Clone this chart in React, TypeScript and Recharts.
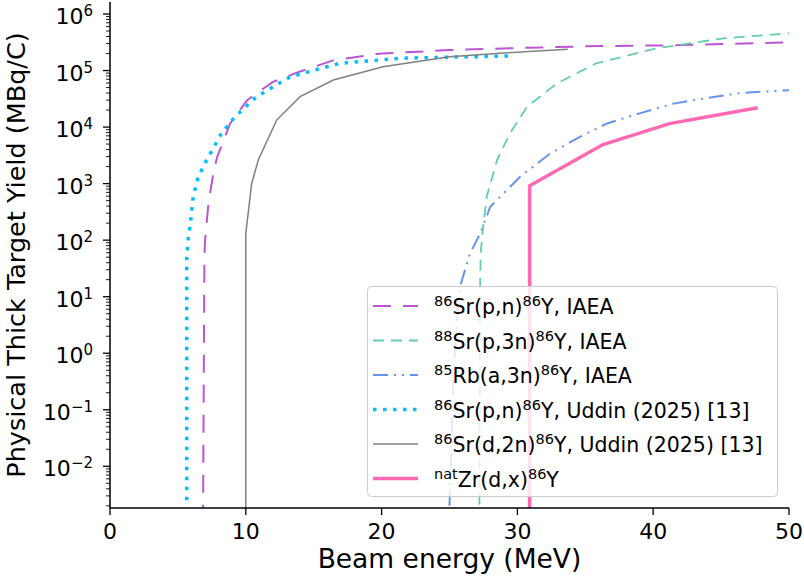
import React from "react";
import { LineChart, Line, XAxis, YAxis } from "recharts";

const FONT = "'DejaVu Sans', sans-serif";

// beam energy (MeV) and yield (MBq/C) per reaction
const srPnIaeaEnergy = [6.85, 6.95, 7.0, 7.25, 7.65, 7.9, 8.85, 10.1, 12.0, 14.0, 16.5, 20.0, 25.0, 30.0, 35.0, 41.5, 50.0];
const srPnIaeaYield = [1e-3, 50, 100, 450, 1750, 3000, 11600, 30000, 63000, 96000, 153000, 200000, 230000, 250000, 268000, 280000, 316000];

const sr88IaeaEnergy = [27.2, 27.25, 27.3, 27.5, 27.75, 28.5, 29.45, 30.7, 32.9, 35.8, 40.25, 45.2, 50.0];
const sr88IaeaYield = [1e-3, 15, 60, 200, 600, 2600, 7700, 22700, 59000, 134000, 247000, 372000, 455000];

const rbIaeaEnergy = [25.0, 25.25, 25.5, 25.77, 26.5, 27.25, 28.0, 30.2, 32.4, 34.6, 36.6, 39.0, 41.5, 43.9, 46.4, 50.0];
const rbIaeaYield = [2e-3, 0.2, 3, 15, 57, 130, 390, 1320, 3400, 6700, 11600, 17500, 26000, 32500, 40000, 45000];

const srPnUddinEnergy = [5.65, 5.65, 5.77, 5.89, 6.13, 6.5, 7.12, 8.22, 9.2, 10.8, 13.25, 16.9, 21.4, 24.3, 29.6];
const srPnUddinYield = [2.5e-3, 50, 112, 170, 590, 1320, 2620, 7800, 15200, 34500, 77000, 134000, 165000, 171000, 181000];

const srDUddinEnergy = [10.0, 10.0, 10.43, 10.92, 12.27, 14.0, 16.45, 20.1, 25.0, 29.0, 33.7];
const srDUddinYield = [1e-3, 132, 1000, 2620, 13300, 34500, 68000, 117000, 176000, 205000, 237000];

const zrEnergy = [30.9, 30.9, 36.3, 41.2, 47.7];
const zrYield = [1e-3, 920, 4900, 11500, 22000];

const xTicks = [0, 10, 20, 30, 40, 50];
const decades = [-2, -1, 0, 1, 2, 3, 4, 5, 6];
const yDomain = [1.83e-3, 1.63e6];

const toPoints = (xs: number[], ys: number[]) => xs.map((x, i) => ({ x, y: ys[i] }));

const yTicks: number[] = [];
for (let e = -3; e <= 6; e++) {
    for (let m = 1; m <= 9; m++) {
        const v = m * Math.pow(10, e);
        if (v >= yDomain[0] && v <= yDomain[1]) yTicks.push(v);
    }
}

type SeriesDef = {
    name: string;
    isotope: string;
    reaction: string;
    suffix: string;
    color: string;
    width: number;
    dash?: string;
    data: { x: number; y: number }[];
};

const series: SeriesDef[] = [
    { name: "srPnIaea", isotope: "86", reaction: "Sr(p,n)", suffix: "Y, IAEA", color: "#BA55D3", width: 2, dash: "18 12", data: toPoints(srPnIaeaEnergy, srPnIaeaYield) },
    { name: "sr88Iaea", isotope: "88", reaction: "Sr(p,3n)", suffix: "Y, IAEA", color: "#66CDAA", width: 1.8, dash: "11 7", data: toPoints(sr88IaeaEnergy, sr88IaeaYield) },
    { name: "rbIaea", isotope: "85", reaction: "Rb(a,3n)", suffix: "Y, IAEA", color: "#6495ED", width: 2, dash: "15 6 2 6 2 6", data: toPoints(rbIaeaEnergy, rbIaeaYield) },
    { name: "srPnUddin", isotope: "86", reaction: "Sr(p,n)", suffix: "Y, Uddin (2025) [13]", color: "#00BFFF", width: 3.5, dash: "3.5 6.5", data: toPoints(srPnUddinEnergy, srPnUddinYield) },
    { name: "srDUddin", isotope: "86", reaction: "Sr(d,2n)", suffix: "Y, Uddin (2025) [13]", color: "#808080", width: 1.5, data: toPoints(srDUddinEnergy, srDUddinYield) },
    { name: "zr", isotope: "nat", reaction: "Zr(d,x)", suffix: "Y", color: "#FF69B4", width: 3.5, data: toPoints(zrEnergy, zrYield) },
];

const YTick = (props: any) => {
    const { x, y, payload } = props;
    const v = payload.value;
    const e = Math.round(Math.log10(v));
    const major = Math.abs(v - Math.pow(10, e)) < 1e-6 * v && decades.includes(e);
    return (
        <g>
            <line x1={x - (major ? 7 : 4)} x2={x} y1={y} y2={y} stroke="#000" strokeWidth={major ? 1.3 : 0.9} />
            {major && (
                <text x={x - 17} y={y + 10} textAnchor="end" fontSize={22} fontFamily={FONT} fill="#000">
                    <tspan>10</tspan>
                    <tspan fontSize={15} dy={-8}>{e < 0 ? `\u2212${-e}` : `${e}`}</tspan>
                </text>
            )}
        </g>
    );
};

const XTick = (props: any) => {
    const { x, y, payload } = props;
    return (
        <g>
            <line x1={x} x2={x} y1={y} y2={y + 7} stroke="#000" strokeWidth={1.3} />
            <text x={x} y={y + 31} textAnchor="middle" fontSize={22} fontFamily={FONT} fill="#000">
                {payload.value}
            </text>
        </g>
    );
};

function LegendBox() {
    const rowTop = 20;
    const rowGap = 34.5;
    return (
        <div style={{ position: "absolute", left: 367, top: 286, width: 411, height: 211 }}>
            <svg width={411} height={211}>
                <rect x={0.5} y={0.5} width={410} height={210} rx={4} fill="rgba(255,255,255,0.8)" stroke="#cccccc" strokeWidth={1} />
                {series.map((s, i) => {
                    const cy = rowTop + i * rowGap;
                    return (
                        <g key={s.name}>
                            <line x1={6} x2={51} y1={cy} y2={cy} stroke={s.color} strokeWidth={s.width} strokeDasharray={s.dash} />
                            <text x={67} y={cy + 8} fontSize={20.5} fontFamily={FONT} fill="#000">
                                <tspan fontSize={14.5} dy={-8}>{s.isotope}</tspan>
                                <tspan dy={8}>{s.reaction}</tspan>
                                <tspan fontSize={14.5} dy={-8}>86</tspan>
                                <tspan dy={8}>{s.suffix}</tspan>
                            </text>
                        </g>
                    );
                })}
            </svg>
        </div>
    );
}

export default function App() {
    return (
        <div style={{ position: "absolute", left: 0, top: 0, width: 804, height: 583, background: "#fff" }}>
            <LineChart width={804} height={583} margin={{ top: 2, right: 15, bottom: 0, left: 0 }}>
                <XAxis
                    type="number"
                    dataKey="x"
                    domain={[0, 50]}
                    ticks={xTicks}
                    interval={0}
                    height={75}
                    tickSize={0}
                    tickMargin={0}
                    tickLine={false}
                    tick={<XTick />}
                    axisLine={{ stroke: "#000", strokeWidth: 1.5 }}
                    allowDataOverflow
                    label={(p: any) => {
                        const vb = p.viewBox;
                        return (
                            <text x={vb.x + vb.width / 2} y={568} textAnchor="middle" fontSize={26.5} fontFamily={FONT} fill="#000">
                                Beam energy (MeV)
                            </text>
                        );
                    }}
                />
                <XAxis xAxisId="top" orientation="top" type="number" domain={[0, 50]} height={0} tick={false} tickLine={false} axisLine={{ stroke: "#000", strokeWidth: 1.5 }} />
                <YAxis
                    type="number"
                    scale="log"
                    domain={yDomain}
                    ticks={yTicks}
                    interval={0}
                    width={110}
                    tickSize={0}
                    tickMargin={0}
                    tickLine={false}
                    tick={<YTick />}
                    axisLine={{ stroke: "#000", strokeWidth: 1.5 }}
                    allowDataOverflow
                    label={(p: any) => {
                        const vb = p.viewBox;
                        const cy = vb.y + vb.height / 2;
                        return (
                            <text x={25} y={cy} transform={`rotate(-90, 25, ${cy})`} textAnchor="middle" fontSize={25.5} fontFamily={FONT} fill="#000">
                                Physical Thick Target Yield (MBq/C)
                            </text>
                        );
                    }}
                />
                <YAxis yAxisId="right" orientation="right" type="number" scale="log" domain={yDomain} width={0} tick={false} tickLine={false} axisLine={{ stroke: "#000", strokeWidth: 1.5 }} allowDataOverflow />
                {series.map((s) => (
                    <Line
                        key={s.name}
                        data={s.data}
                        dataKey="y"
                        type="linear"
                        stroke={s.color}
                        strokeWidth={s.width}
                        strokeDasharray={s.dash}
                        dot={false}
                        activeDot={false}
                        isAnimationActive={false}
                    />
                ))}
            </LineChart>
            <LegendBox />
        </div>
    );
}
